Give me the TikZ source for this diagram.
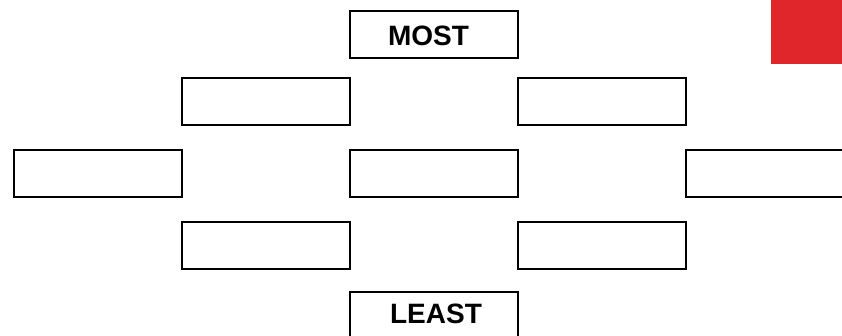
\documentclass[tikz,border=0pt]{standalone}
\usepackage{fontspec}
\setmainfont{Liberation Sans}
\definecolor{tabred}{RGB}{224,38,42}
\begin{document}
\begin{tikzpicture}[x=1pt,y=-1pt,
  box/.style={draw=black,line width=2pt,fill=white,minimum width=168pt,minimum height=47pt,inner sep=0pt,outer sep=0pt},
  lbl/.style={font=\fontsize{28}{30}\selectfont\bfseries,inner sep=0pt}]
\useasboundingbox (0,0) rectangle (842,335);
\clip (0,0) rectangle (842,335);
\fill[tabred] (771,0) rectangle (842,64);
\node[box] (most) at (434,34) {};
\node[lbl] (mostt) at (428.5,36) {MOST};
\node[box] (ul) at (266,101) {};
\node[box] (ur) at (602,101) {};
\node[box] (ml) at (98,173.5) {};
\node[box] (mc) at (434,173.5) {};
\node[box] (mr) at (770,173.5) {};
\node[box] (ll) at (266,245.5) {};
\node[box] (lr) at (602,245.5) {};
\node[box] (least) at (434,315.5) {};
\node[lbl] (leastt) at (436,313.5) {LEAST};
\end{tikzpicture}
\end{document}
